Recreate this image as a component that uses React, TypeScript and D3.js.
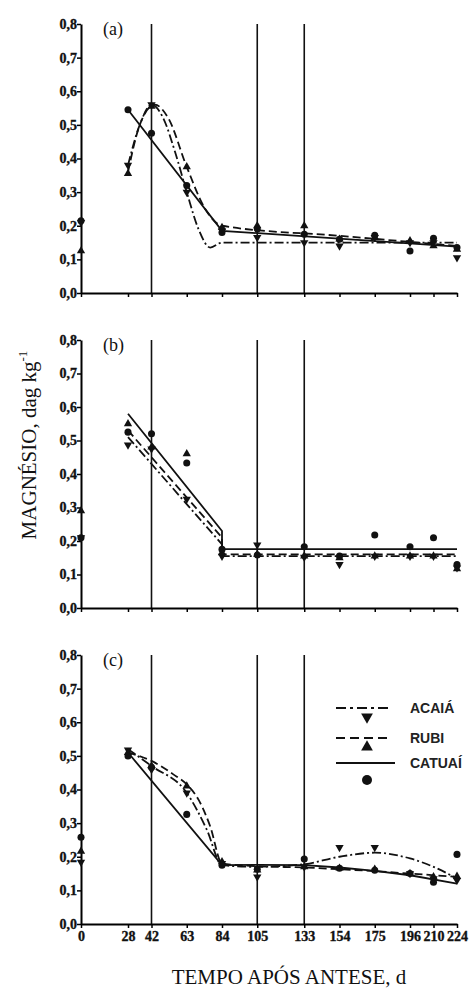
import * as React from "react";
import * as d3 from "d3";

// dias após antese
const days = [0, 28, 42, 63, 84, 105, 133, 154, 175, 196, 210, 224];
const yTicks = [0, 0.1, 0.2, 0.3, 0.4, 0.5, 0.6, 0.7, 0.8];
const guideDays = [42, 105, 133];
const cultivars = ["ACAIÁ", "RUBI", "CATUAÍ"];
const panelLabels = ["(a)", "(b)", "(c)"];

// valores observados (a)
const acaiaA = [0.21, 0.38, 0.56, 0.3, 0.185, 0.165, 0.15, 0.14, 0.165, 0.15, 0.15, 0.105];
const rubiA = [0.125, 0.355, 0.555, 0.375, 0.195, 0.2, 0.2, 0.16, 0.165, 0.155, 0.14, 0.13];
const catuaiA = [0.215, 0.545, 0.475, 0.32, 0.18, 0.19, 0.175, 0.16, 0.172, 0.125, 0.163, 0.135];

// valores observados (b)
const acaiaB = [0.21, 0.487, 0.475, 0.325, 0.155, 0.188, 0.152, 0.13, 0.155, 0.155, 0.155, 0.12];
const rubiB = [0.29, 0.55, 0.48, 0.46, 0.165, 0.16, 0.155, 0.15, 0.155, 0.155, 0.155, 0.117];
const catuaiB = [0.21, 0.525, 0.52, 0.433, 0.175, 0.158, 0.183, 0.155, 0.218, 0.183, 0.21, 0.13];

// valores observados (c)
const acaiaC = [0.184, 0.518, 0.46, 0.39, 0.18, 0.14, 0.17, 0.228, 0.228, 0.15, 0.135, 0.13];
const rubiC = [0.216, 0.51, 0.47, 0.41, 0.185, 0.16, 0.17, 0.166, 0.163, 0.15, 0.14, 0.142];
const catuaiC = [0.258, 0.5, 0.466, 0.326, 0.175, 0.163, 0.193, 0.166, 0.16, 0.15, 0.124, 0.207];

// curvas ajustadas
const fitAcaiaA: [number, number][] = [[28, 0.38], [35, 0.5], [42, 0.56], [49, 0.52], [56, 0.42], [63, 0.3], [70, 0.19], [77, 0.135], [84, 0.15], [224, 0.15]];
const fitRubiA: [number, number][] = [[28, 0.36], [35, 0.5], [44, 0.56], [52, 0.52], [63, 0.375], [74, 0.25], [84, 0.2], [154, 0.17], [224, 0.14]];
const fitCatuaiA: [number, number][] = [[28, 0.545], [84, 0.185], [224, 0.138]];

const fitAcaiaB: [number, number][] = [[28, 0.51], [84, 0.19], [84, 0.155], [224, 0.155]];
const fitRubiB: [number, number][] = [[28, 0.53], [84, 0.21], [84, 0.16], [224, 0.16]];
const fitCatuaiB: [number, number][] = [[28, 0.58], [84, 0.23], [84, 0.176], [224, 0.176]];

const fitAcaiaC: [number, number][] = [[28, 0.52], [42, 0.47], [63, 0.39], [75, 0.28], [84, 0.175], [105, 0.17], [133, 0.178], [154, 0.2], [175, 0.212], [196, 0.195], [210, 0.17], [224, 0.135]];
const fitRubiC: [number, number][] = [[28, 0.51], [42, 0.485], [55, 0.445], [63, 0.415], [70, 0.37], [77, 0.29], [84, 0.18], [105, 0.172], [133, 0.168], [154, 0.163], [175, 0.157], [196, 0.15], [224, 0.14]];
const fitCatuaiC: [number, number][] = [[28, 0.51], [84, 0.175], [105, 0.176], [133, 0.175], [154, 0.168], [175, 0.158], [196, 0.145], [224, 0.12]];

const panels = [
  { top: 24, bottom: 293, obs: [acaiaA, rubiA, catuaiA], fits: [fitAcaiaA, fitRubiA, fitCatuaiA], smooth: [true, true, false] },
  { top: 340, bottom: 608, obs: [acaiaB, rubiB, catuaiB], fits: [fitAcaiaB, fitRubiB, fitCatuaiB], smooth: [false, false, false] },
  { top: 655, bottom: 924, obs: [acaiaC, rubiC, catuaiC], fits: [fitAcaiaC, fitRubiC, fitCatuaiC], smooth: [true, true, false] },
];

const dashes = ["9,3,2,3", "8,4", null];
const serif = "Liberation Serif, Times New Roman, serif";
const sans = "Liberation Sans, Arial, sans-serif";

function marker(i: number, size: number) {
  if (i === 2) return d3.symbol().type(d3.symbolCircle).size(size * 1.3)();
  return d3.symbol().type(d3.symbolTriangle).size(size)();
}

function drawChart(svgRef: React.RefObject<SVGSVGElement | null>) {
  const svg = d3.select(svgRef.current);
  svg.selectAll("*").remove();

  const x = d3.scaleLinear().domain([0, 224]).range([81, 457]);

  panels.forEach((p, pi) => {
    const y = d3.scaleLinear().domain([0, 0.8]).range([p.bottom, p.top]);
    const g = svg.append("g");

    // linhas verticais
    g.selectAll(".guide")
      .data(guideDays)
      .enter()
      .append("line")
      .attr("x1", d => x(d))
      .attr("x2", d => x(d))
      .attr("y1", y(0.8))
      .attr("y2", y(0))
      .attr("stroke", "#111")
      .attr("stroke-width", 1.6);

    const xAxis = g.append("g")
      .attr("transform", `translate(0, ${p.bottom})`)
      .call(
        d3.axisBottom(x)
          .tickValues(days)
          .tickSize(4)
          .tickSizeOuter(0)
          .tickPadding(3)
          .tickFormat(d => (pi === 2 ? String(d) : ""))
      );
    xAxis.select(".domain").attr("stroke-width", 2);
    xAxis.selectAll(".tick line").attr("stroke-width", 1.5);
    xAxis.selectAll("text")
      .style("font-family", serif)
      .style("font-weight", "bold")
      .style("font-size", "14px")
      .attr("fill", "#111")
      .attr("stroke", "#111")
      .attr("stroke-width", 0.35);

    const yAxis = g.append("g")
      .attr("transform", `translate(${x(0)}, 0)`)
      .call(
        d3.axisLeft(y)
          .tickValues(yTicks)
          .tickSize(4)
          .tickSizeOuter(0)
          .tickPadding(0)
          .tickFormat(d => (d as number).toFixed(1).replace(".", ","))
      );
    yAxis.select(".domain").attr("stroke-width", 2);
    yAxis.selectAll(".tick line").attr("stroke-width", 1.5);
    yAxis.selectAll("text")
      .style("font-family", serif)
      .style("font-weight", "bold")
      .style("font-size", "14px")
      .attr("fill", "#111")
      .attr("stroke", "#111")
      .attr("stroke-width", 0.35);

    g.append("text")
      .attr("x", 103)
      .attr("y", p.top + 11)
      .style("font-family", serif)
      .style("font-size", "18px")
      .attr("fill", "#111")
      .text(panelLabels[pi]);

    // curvas ajustadas
    p.fits.forEach((fit, ci) => {
      const line = d3.line<[number, number]>()
        .x(d => x(d[0]))
        .y(d => y(d[1]))
        .curve(p.smooth[ci] ? d3.curveMonotoneX : d3.curveLinear);
      g.append("path")
        .attr("d", line(fit))
        .attr("fill", "none")
        .attr("stroke", "#111")
        .attr("stroke-width", 1.8)
        .attr("stroke-dasharray", dashes[ci]);
    });

    // pontos observados
    p.obs.forEach((vals, ci) => {
      g.selectAll(`.pt${ci}`)
        .data(vals)
        .enter()
        .append("path")
        .attr("d", marker(ci, 30))
        .attr("transform", (v, i) => `translate(${x(days[i])}, ${y(v)})${ci === 0 ? " rotate(180)" : ""}`)
        .attr("fill", "#111");
    });
  });

  // legenda
  const leg = svg.append("g");
  const legRows = [708, 738, 763];
  const markRows = [717, 747, 780];
  cultivars.forEach((name, ci) => {
    leg.append("line")
      .attr("x1", 336)
      .attr("x2", ci === 2 ? 395 : 390)
      .attr("y1", legRows[ci])
      .attr("y2", legRows[ci])
      .attr("stroke", "#111")
      .attr("stroke-width", 2)
      .attr("stroke-dasharray", ci === 0 ? "10,4,3,4" : ci === 1 ? "9,5" : null);
    leg.append("path")
      .attr("d", marker(ci, 60))
      .attr("transform", `translate(367, ${markRows[ci]})${ci === 0 ? " rotate(180)" : ""}`)
      .attr("fill", "#111");
    leg.append("text")
      .attr("x", 410)
      .attr("y", legRows[ci] + 5)
      .style("font-family", sans)
      .style("font-weight", "bold")
      .style("font-size", "14px")
      .attr("fill", "#222")
      .text(name);
  });

  // títulos dos eixos
  const yl = svg.append("text")
    .attr("transform", "translate(36, 445) rotate(-90)")
    .attr("text-anchor", "middle")
    .style("font-family", serif)
    .style("font-size", "21px")
    .attr("fill", "#111");
  yl.append("tspan").text("MAGNÉSIO, dag kg");
  yl.append("tspan").style("font-size", "13px").attr("dy", -9).text("-1");

  svg.append("text")
    .attr("x", 289)
    .attr("y", 984)
    .attr("text-anchor", "middle")
    .style("font-family", serif)
    .style("font-size", "21px")
    .attr("fill", "#111")
    .text("TEMPO APÓS ANTESE, d");
}

const App = () => {
  const svgRef = React.useRef<SVGSVGElement>(null);

  React.useEffect(() => {
    drawChart(svgRef);
  }, [svgRef]);

  return (
    <svg
      ref={svgRef}
      width={472}
      height={990}
      style={{ position: "absolute", left: 0, top: 0, background: "#fff" }}
    />
  );
};

export default App;
